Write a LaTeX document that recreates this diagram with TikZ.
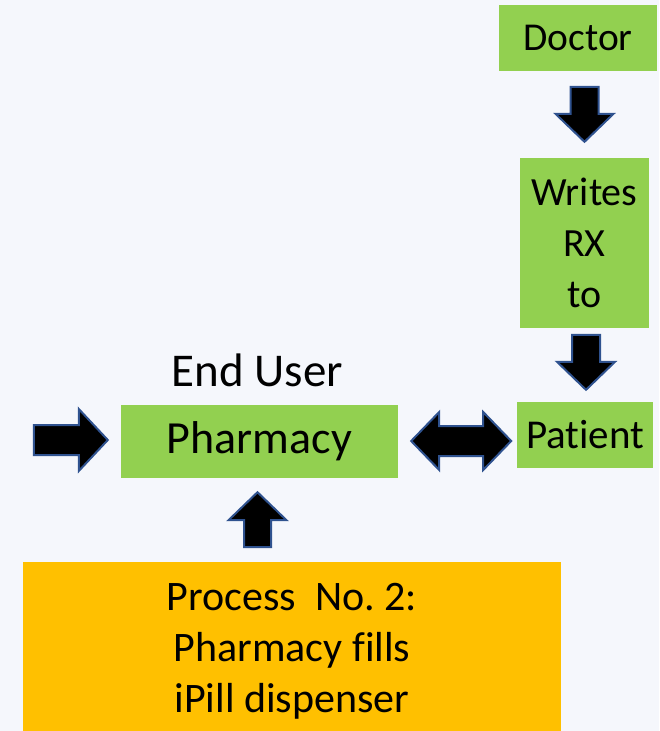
\documentclass[tikz,border=0pt]{standalone}
\usepackage{fontspec}
\setmainfont[Ligatures=NoCommon]{Carlito}
\usetikzlibrary{calc}
\definecolor{boxgreen}{HTML}{92D050}
\definecolor{boxorange}{HTML}{FFC000}
\definecolor{arrowblue}{HTML}{2F528F}
\definecolor{bgpaper}{HTML}{F5F7FC}
\begin{document}
\begin{tikzpicture}[x=1pt, y=-1pt,
		greenbox/.style={fill=boxgreen, inner sep=0pt, text=black, align=center},
		blockarrow/.style={fill=black, draw=arrowblue, line width=2pt, line join=miter},
		pics/blockdown/.style n args={4}{code={
			\draw[blockarrow] (0,0) -- (#3,-#2) -- (#4,-#2) -- (#4,-#1) -- (-#4,-#1) -- (-#4,-#2) -- (-#3,-#2) -- cycle;}},
		pics/blockdouble/.style n args={4}{code={
			\draw[blockarrow] (0,0) -- (#2,-#3) -- (#2,-#4) -- ({#1-#2},-#4) -- ({#1-#2},-#3) -- (#1,0)
				-- ({#1-#2},#3) -- ({#1-#2},#4) -- (#2,#4) -- (#2,#3) -- cycle;}}]
	
	% background and page size
	\fill[bgpaper] (0,0) rectangle (659,731);
	
	% boxes
	\node[greenbox, minimum width=158pt, minimum height=66pt, font=\fontsize{39.5}{47}\selectfont] (doctor) at (578,38) {Doctor};
	\node[greenbox, minimum width=129pt, minimum height=170pt, font=\fontsize{40}{51}\selectfont] (writes) at (584.5,243) {Writes\\RX\\to};
	\node[greenbox, minimum width=136pt, minimum height=66pt, font=\fontsize{41}{48}\selectfont] (patient) at (585,435) {Patient};
	\node[greenbox, minimum width=277pt, minimum height=73pt, font=\fontsize{46}{55}\selectfont] (pharmacy) at (259.5,441.5) {Pharmacy};
	\node[anchor=base, font=\fontsize{47}{56}\selectfont] (enduser) at ($(pharmacy.north)+(-2,-18)$) {End User};
	\node[fill=boxorange, inner sep=0pt, minimum width=538pt, minimum height=169pt] (process) at (292,646.5) {};
	\node[align=center, font=\fontsize{42}{51}\selectfont] (processtext) at ($(process.center)+(0,5)$)
		{Process\ \ No.\ 2:\\Pharmacy fills\\iPill dispenser};
	
	% block arrows
	\pic at ($(writes.north)+(0,-16)$) {blockdown={55}{28}{29}{14}};
	\pic at ($(patient.north)+(1,-12)$) {blockdown={55}{28}{29}{14}};
	\pic[rotate=90] at ($(pharmacy.west)+(-13,-1.5)$) {blockdown={74}{29}{31}{15}};
	\pic[rotate=180] at ($(pharmacy.south)+(-2,14)$) {blockdown={55}{28}{29}{13.5}};
	\pic at ($(pharmacy.east)+(13,-0.5)$) {blockdouble={100}{28}{29}{15}};
\end{tikzpicture}
\end{document}
